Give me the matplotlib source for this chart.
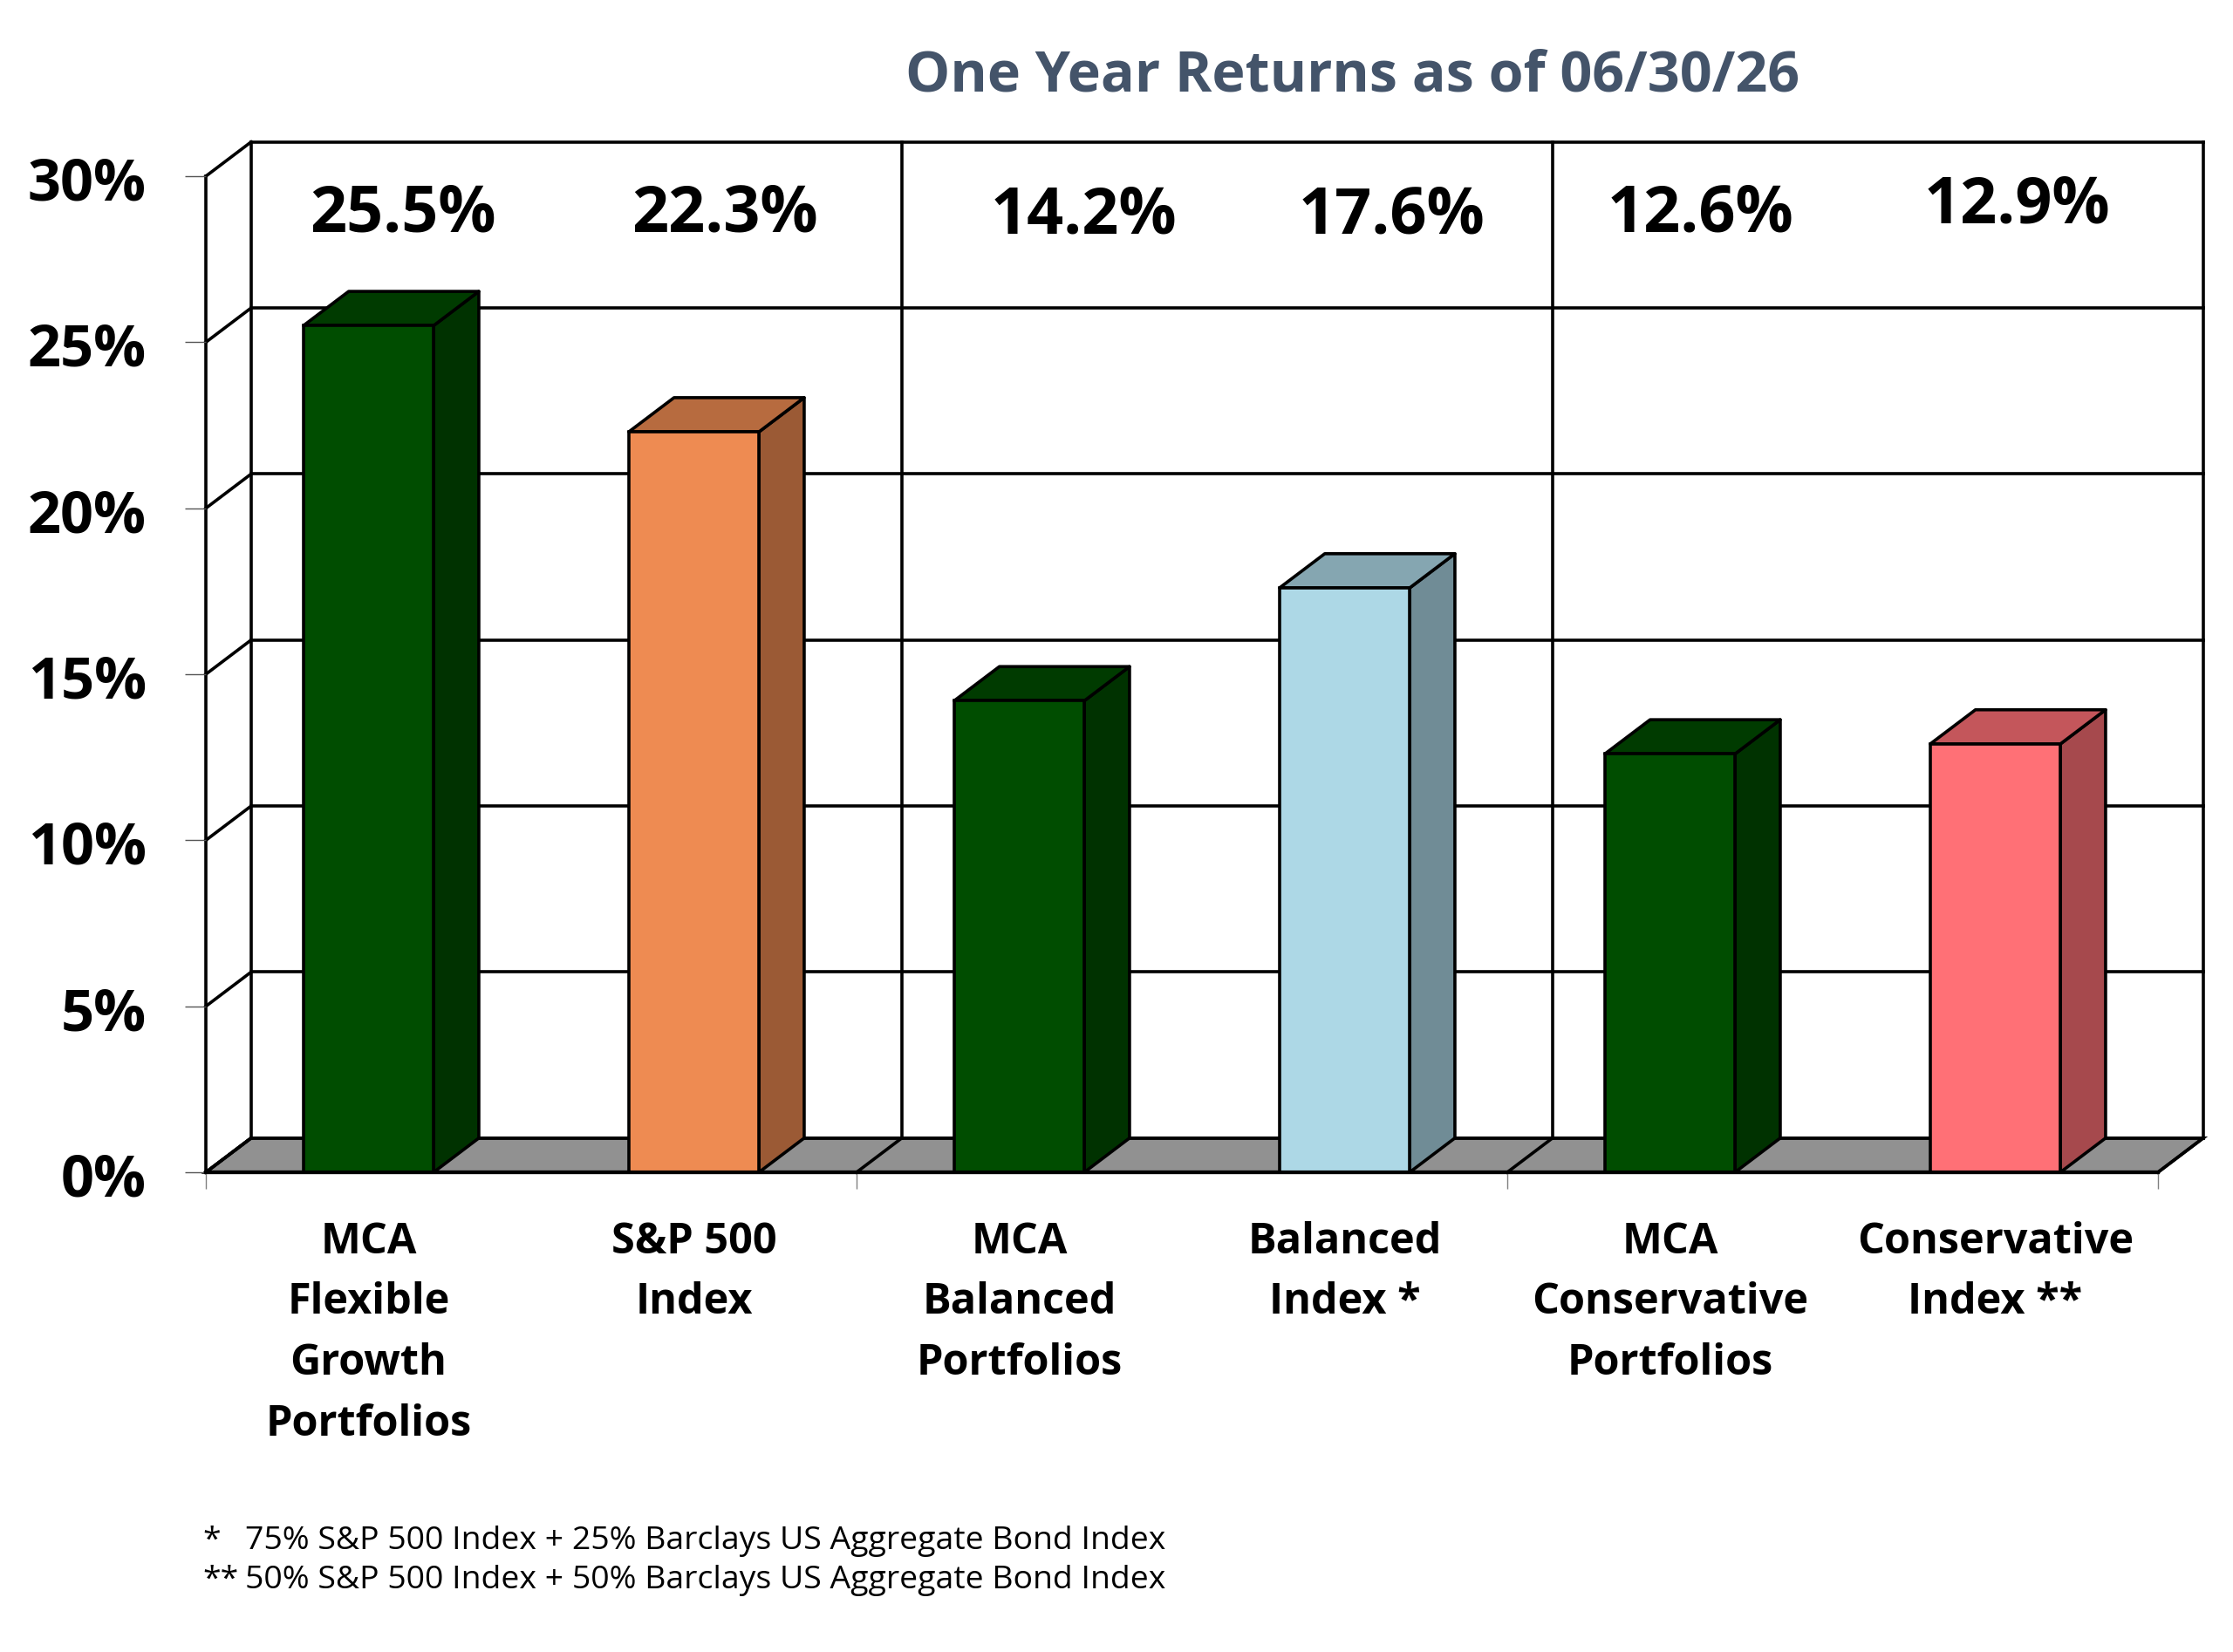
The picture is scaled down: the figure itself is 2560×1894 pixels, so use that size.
import matplotlib
matplotlib.use('Agg')
import matplotlib.pyplot as plt
from matplotlib.colors import to_rgb
from matplotlib.patches import Polygon
from matplotlib.transforms import ScaledTranslation

plt.rcParams['font.family'] = ['Open Sans', 'DejaVu Sans']

categories = ['MCA\nFlexible\nGrowth\nPortfolios', 'S&P 500\nIndex', 'MCA\nBalanced\nPortfolios',
              'Balanced\nIndex *', 'MCA\nConservative\nPortfolios', 'Conservative\nIndex **']
returns = [25.5, 22.3, 14.2, 17.6, 12.6, 12.9]
bar_colors = ['#004d00', '#ee8b52', '#004d00', '#add8e6', '#004d00', '#ff7076']
y_ticks = [0, 5, 10, 15, 20, 25, 30]
group_edges = [-0.5, 1.5, 3.5, 5.5]
footnotes = ['75% S&P 500 Index + 25% Barclays US Aggregate Bond Index',
             '50% S&P 500 Index + 50% Barclays US Aggregate Bond Index']
footnote_marks = ['*', '**']

W, H = 2560, 1894
LINE = 2.6
DX = 0.139  # depth of the 3d box, in category units
DY = 1.03   # depth of the 3d box, in percent
BAR_W = 0.4


def shade(color, factor):
    return tuple(c * factor for c in to_rgb(color))


fig = plt.figure(figsize=(W / 100, H / 100), dpi=100, facecolor='white')
ax = fig.add_axes([236 / W, 1 - 1344 / H, (2474 - 236) / W, (1344 - 202) / H])
ax.set_xlim(-0.5, 5.5)
ax.set_ylim(0, 30)
for s in ax.spines.values():
    s.set_visible(False)
ax.patch.set_visible(False)

# floor
x0, x1 = group_edges[0], group_edges[-1]
ax.add_patch(Polygon([(x0, 0), (x1, 0), (x1 + DX, DY), (x0 + DX, DY)], closed=True,
                     facecolor='#919191', edgecolor='black', lw=LINE, zorder=1, clip_on=False))

# back wall and left wall grid
for t in y_ticks:
    ax.plot([x0 + DX, x1 + DX], [t + DY, t + DY], color='black', lw=LINE, zorder=1.5, clip_on=False,
            solid_capstyle='projecting')
    ax.plot([x0, x0 + DX], [t, t + DY], color='black', lw=LINE, zorder=1.5, clip_on=False)
ax.plot([x0, x0], [0, 30], color='black', lw=LINE, zorder=1.5, clip_on=False)
for e in group_edges:
    ax.plot([e + DX, e + DX], [DY, 30 + DY], color='black', lw=LINE, zorder=1.5, clip_on=False,
            solid_capstyle='projecting')
    ax.plot([e, e + DX], [0, DY], color='black', lw=LINE, zorder=1.5, clip_on=False)
ax.plot([x0, x1], [0, 0], color='black', lw=LINE + 0.4, zorder=1.5, clip_on=False)

# bars: side and top faces, then the front
xs = list(range(len(returns)))
for x, v, c in zip(xs, returns, bar_colors):
    l, r = x - BAR_W / 2, x + BAR_W / 2
    ax.add_patch(Polygon([(r, 0), (r + DX, DY), (r + DX, v + DY), (r, v)], closed=True,
                         facecolor=shade(c, 0.65), edgecolor='black', lw=LINE, zorder=2,
                         joinstyle='round', clip_on=False))
    ax.add_patch(Polygon([(l, v), (r, v), (r + DX, v + DY), (l + DX, v + DY)], closed=True,
                         facecolor=shade(c, 0.77), edgecolor='black', lw=LINE, zorder=2,
                         joinstyle='round', clip_on=False))
ax.bar(xs, returns, width=BAR_W, color=bar_colors, edgecolor='black', linewidth=LINE, zorder=3, clip_on=False)
ax.plot([x0, x1], [0, 0], color='black', lw=LINE + 0.4, zorder=3.5, clip_on=False)

# ticks
ax.set_yticks(y_ticks)
ax.set_yticklabels([f'{t}%' for t in y_ticks], fontsize=48, fontweight='bold')
ax.tick_params(axis='y', length=17, width=1.0, color='#555555', pad=32)
down = ScaledTranslation(0, -2 / 100, fig.dpi_scale_trans)
for lab in ax.get_yticklabels():
    lab.set_transform(lab.get_transform() + down)
ax.set_xticks(group_edges)
ax.set_xticklabels([])
ax.tick_params(axis='x', which='major', length=14, width=1.0, color='#808080')
ax.set_xticks(xs, minor=True)
ax.set_xticklabels(categories, minor=True, fontsize=35, fontweight='bold', linespacing=1.56)
ax.tick_params(axis='x', which='minor', length=0, pad=40)

# value labels sit in a row along the top, not on the bars
label_px = [(462, 247), (831, 247), (1242, 249), (1595, 249), (1949, 247), (2312, 237)]
for v, (px, py) in zip(returns, label_px):
    fig.text(px / W, 1 - py / H, f'{v}%', fontsize=53, fontweight='bold', ha='center', va='center',
             color='black')

fig.text(1551 / W, 1 - 88 / H, 'One Year Returns as of 06/30/26', fontsize=46.5, fontweight='bold',
         color='#44546a', ha='center', va='center')

for mark, note, py in zip(footnote_marks, footnotes, [1767, 1812]):
    fig.text(232 / W, 1 - py / H, mark, fontsize=26.9, ha='left', va='center', color='black')
    fig.text(281 / W, 1 - py / H, note, fontsize=26.9, ha='left', va='center', color='black')

fig.savefig('out.png', dpi=100)
